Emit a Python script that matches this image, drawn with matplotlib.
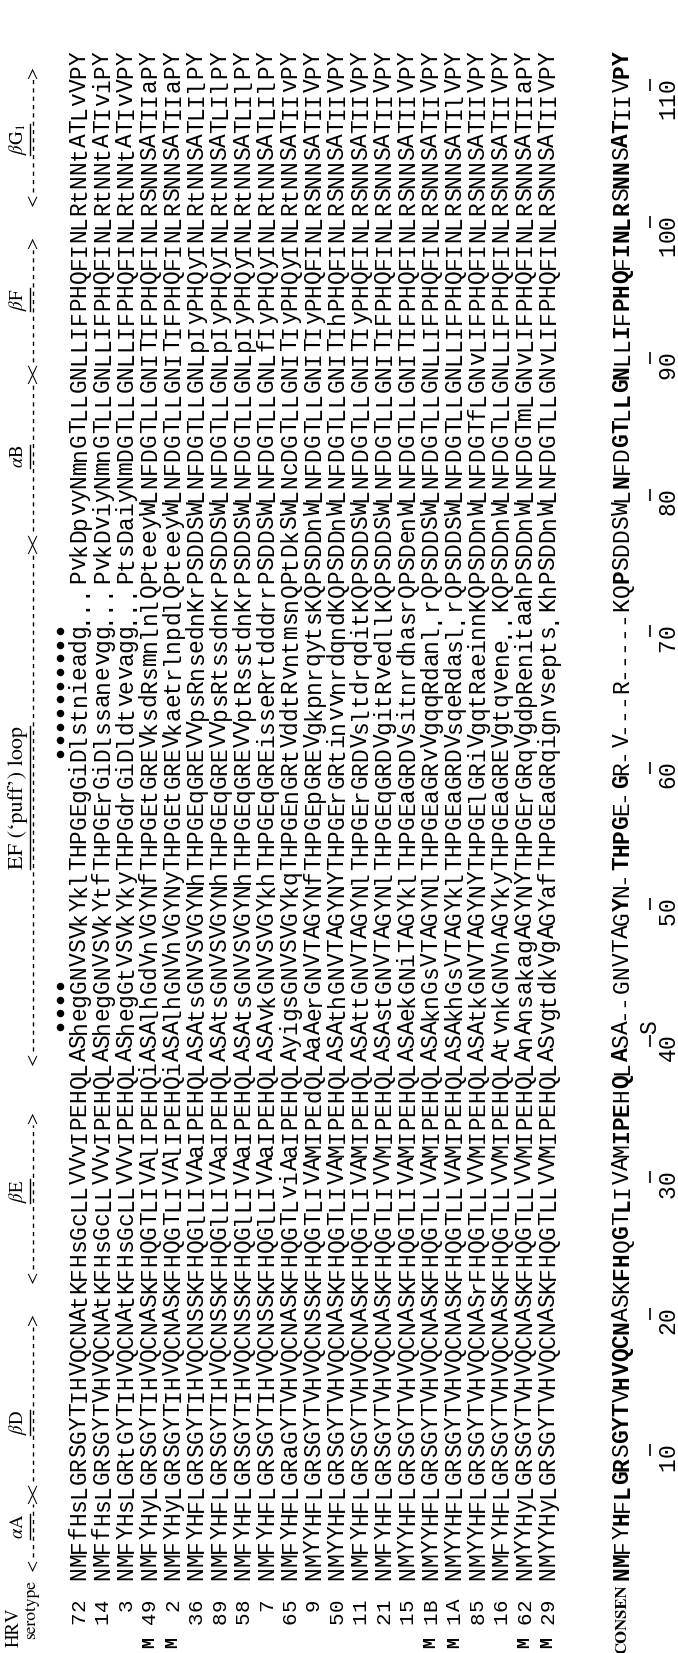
import matplotlib
matplotlib.use("Agg")
import matplotlib.pyplot as plt

plt.rcParams['mathtext.fontset'] = 'stix'

# ---------------- data ----------------
serotypes = ["72", "14", "3", "49", "2", "36", "89", "58", "7", "65", "9",
             "50", "11", "21", "15", "1B", "1A", "85", "16", "62", "29"]
m_flagged = ["49", "2", "1B", "1A", "62", "29"]

seq_72 = ("NMFfHsLGRS" "GYTIHVQCNA" "tKFHsGcLLV" "VvIPEHQLAS" "hegGNVSVkY" "klTHPGEgGi"
          "Dlstnieadg" "...PvkDpvy" "NmnGTLLGNL" "LIFPHQFINL" "RtNNtATLvV" "PY")
seq_14 = ("NMFfHsLGRS" "GYTVHVQCNA" "tKFHsGcLLV" "VvIPEHQLAS" "hegGNVSVkY" "tfTHPGErGi"
          "Dlssanevgg" "...PvkDviy" "NmnGTLLGNL" "LIFPHQFINL" "RtNNtATIvi" "PY")
seq_3 = ("NMFYHsLGRt" "GYTIHVQCNA" "tKFHsGcLLV" "VvIPEHQLAS" "hegGtVSVkY" "kyTHPGdrGi"
         "Dldtvevagg" "...PtsDaiy" "NmDGTLLGNL" "LIFPHQFINL" "RtNNtATIvV" "PY")
seq_49 = ("NMFYHyLGRS" "GYTIHVQCNA" "SKFHQGTLIV" "AlIPEHQiAS" "AlhGdVnVGY" "NfTHPGEtGR"
          "EVksdRsmnl" "nlQPteeyWL" "NFDGTLLGNI" "TIFPHQFINL" "RSNNSATIIa" "PY")
seq_2 = ("NMFYHyLGRS" "GYTIHVQCNA" "SKFHQGTLIV" "AlIPEHQiAS" "AlhGNVnVGY" "NyTHPGEtGR"
         "EVkaetrlnp" "dlQPteeyWL" "NFDGTLLGNI" "TIFPHQFINL" "RSNNSATIIa" "PY")
seq_36 = ("NMFYHFLGRS" "GYTIHVQCNS" "SKFHQGlLIV" "AaIPEHQLAS" "AtsGNVSVGY" "NhTHPGEqGR"
          "EVVpsRnsed" "nKrPSDDSWL" "NFDGTLLGNL" "pIyPHQyINL" "RtNNSATLIl" "PY")
seq_89 = ("NMFYHFLGRS" "GYTIHVQCNS" "SKFHQGlLIV" "AaIPEHQLAS" "AtsGNVSVGY" "NhTHPGEqGR"
          "EVVpsRtssd" "nKrPSDDSWL" "NFDGTLLGNL" "pIyPHQyINL" "RtNNSATLIl" "PY")
seq_58 = ("NMFYHFLGRS" "GYTIHVQCNS" "SKFHQGlLIV" "AaIPEHQLAS" "AtsGNVSVGY" "NhTHPGEqGR"
          "EVVptRsstd" "nKrPSDDSWL" "NFDGTLLGNL" "pIyPHQyINL" "RtNNSATLIl" "PY")
seq_7 = ("NMFYHFLGRS" "GYTIHVQCNS" "SKFHQGlLIV" "AaIPEHQLAS" "AvkGNVSVGY" "khTHPGEqGR"
         "EisseRrtdd" "drrPSDDSWL" "NFDGTLLGNL" "fIyPHQyINL" "RtNNSATLIl" "PY")
seq_65 = ("NMFYHFLGRa" "GYTVHVQCNA" "SKFHQGTLvi" "AaIPEHQLAy" "igsGNVSVGY" "kqTHPGEnGR"
          "tVddtRvntm" "snQPtDkSWL" "NcDGTLLGNI" "TIyPHQyINL" "RtNNSATIIv" "PY")
seq_9 = ("NMYYHFLGRS" "GYTVHVQCNS" "SKFHQGTLIV" "AMIPEdQLAa" "AerGNVTAGY" "NfTHPGEpGR"
         "EVgkpnrqyt" "sKQPSDDnWL" "NFDGTLLGNI" "TIyPHQFINL" "RSNNSATIIV" "PY")
seq_50 = ("NMYYHFLGRS" "GYTVHVQCNA" "SKFHQGTLIV" "AMIPEHQLAS" "AthGNVTAGY" "NYTHPGErGR"
          "tinvvnrdqn" "dKQPSDDnWL" "NFDGTLLGNI" "TIhPHQFINL" "RSNNSATIIV" "PY")
seq_11 = ("NMFYHFLGRS" "GYTVHVQCNA" "SKFHQGTLIV" "AMIPEHQLAS" "AttGNVTAGY" "NlTHPGErGR"
          "DVsltdrqdi" "tKQPSDDSWL" "NFDGTLLGNI" "TIyPHQFINL" "RSNNSATIIV" "PY")
seq_21 = ("NMFYHFLGRS" "GYTVHVQCNA" "SKFHQGTLIV" "VMIPEHQLAS" "AstGNVTAGY" "NlTHPGEqGR"
          "DVgitRvedl" "lKQPSDDSWL" "NFDGTLLGNI" "TIFPHQFINL" "RSNNSATIIV" "PY")
seq_15 = ("NMYYHFLGRS" "GYTVHVQCNA" "SKFHQGTLIV" "AMIPEHQLAS" "AekGNiTAGY" "klTHPGEaGR"
          "DVsitnrdha" "srQPSDenWL" "NFDGTLLGNI" "TIFPHQFINL" "RSNNSATIIV" "PY")
seq_1B = ("NMYYHFLGRS" "GYTVHVQCNA" "SKFHQGTLLV" "AMIPEHQLAS" "AknGsVTAGY" "NlTHPGEaGR"
          "vVgqqRdanl" ".rQPSDDSWL" "NFDGTLLGNL" "LIFPHQFINL" "RSNNSATIIV" "PY")
seq_1A = ("NMYYHFLGRS" "GYTVHVQCNA" "SKFHQGTLLV" "AMIPEHQLAS" "AkhGsVTAGY" "klTHPGEaGR"
          "DVsqeRdasl" ".rQPSDDSWL" "NFDGTLLGNL" "LIFPHQFINL" "RSNNSATIlV" "PY")
seq_85 = ("NMYYHFLGRS" "GYTVHVQCNA" "SrFHQGTLLV" "VMIPEHQLAS" "AtkGNVTAGY" "NYTHPGElGR"
          "iVgqtRaein" "nKQPSDDnWL" "NFDGTfLGNv" "LIFPHQFINL" "RSNNSATIIV" "PY")
seq_16 = ("NMFYHFLGRS" "GYTVHVQCNA" "SKFHQGTLLV" "VMIPEHQLAt" "vnkGNVnAGY" "kyTHPGEaGR"
          "EVgtqvene." ".KQPSDDnWL" "NFDGTLLGNL" "LIFPHQFINL" "RSNNSATIIV" "PY")
seq_62 = ("NMYYHyLGRS" "GYTVHVQCNA" "SKFHQGTLLV" "VMIPEHQLAn" "AnsakagAGY" "NYTHPGErGR"
          "qVgdpRenit" "aahPSDDnWL" "NFDGTmLGNv" "LIFPHQFINL" "RSNNSATIIa" "PY")
seq_29 = ("NMYYHyLGRS" "GYTVHVQCNA" "SKFHQGTLLV" "VMIPEHQLAS" "vgtdkVgAGY" "afTHPGEaGR"
          "qignvsepts" ".KhPSDDnWL" "NFDGTLLGNv" "LIFPHQFINL" "RSNNSATIIV" "PY")
consensus = ("NMFYHFLGRS" "GYTVHVQCNA" "SKFHQGTLIV" "AMIPEHQLAS" "A--GNVTAGY" "N-THPGE-GR"
             "-V---R----" "-KQPSDDSWL" "NFDGTLLGNL" "LIFPHQFINL" "RSNNSATIIV" "PY")

sequences = [seq_72, seq_14, seq_3, seq_49, seq_2, seq_36, seq_89, seq_58, seq_7, seq_65,
             seq_9, seq_50, seq_11, seq_21, seq_15, seq_1B, seq_1A, seq_85, seq_16, seq_62, seq_29]

ruler_ticks = [10, 20, 30, 40, 50, 60, 70, 80, 90, 100, 110]
ruler_marks = [("S", 41)]
dots_near_loop_start = [41, 42, 43, 44]
dots_in_loop = [61, 62, 63, 64, 65, 66, 67, 68, 69, 70]

# secondary structure: (label, start residue, end residue, label centre)
structure = [
    (r"$\alpha$A", 1.6, 6.6, 4.4),
    (r"$\beta$D", 7.2, 19.6, 12.0),
    (r"$\beta$E", 22.7, 34.4, 29.0),
    ("EF (\u2018puff\u2019) loop", 38.7, 76.2, 57.8),
    (r"$\alpha$B", 76.8, 88.6, 82.8),
    (r"$\beta$F", 89.2, 98.5, 94.3),
    (r"$\beta$G$_1$", 101.6, 111.0, 106.0),
]

# ---------------- layout ----------------
W, H = 678, 1653
ROW0_PX, ROW_PITCH = 79.0, 23.45     # x pixel of first row, spacing of rows
RES1_PX, RES_PITCH = 1573.0, 13.65   # y pixel of residue 1, spacing of residues


def slot(px):
    return (px - ROW0_PX) / ROW_PITCH


def res(py):
    return 1 + (RES1_PX - py) / RES_PITCH


fig = plt.figure(figsize=(W / 100, H / 100), dpi=100)
ax = fig.add_axes([0, 0, 1, 1])
ax.set_xlim(slot(0), slot(W))
ax.set_ylim(res(H), res(0))
ax.axis('off')

MONO = ['Liberation Mono', 'DejaVu Sans Mono']
SERIF = ['STIXGeneral', 'DejaVu Serif']
SEQ_SIZE = 16.5

X_CONS = slot(622)
X_TICK = slot(650)
X_NUM = slot(668)
X_DASH = slot(33)
X_LABEL = slot(18)
X_DOTS = slot(60)

# columns identical in every serotype are shown in bold in the consensus
conserved = [all(s[k] == consensus[k] for s in sequences) for k in range(len(consensus))]

for i, (lab, s) in enumerate(zip(serotypes, sequences)):
    for k, ch in enumerate(s, start=1):
        ax.text(i, k, ch, rotation=90, ha='center', va='center',
                family=MONO, size=SEQ_SIZE)
    for j, ch in enumerate(reversed(lab)):
        ax.text(i, -1.35 - 0.95 * j, ch, rotation=90, ha='center', va='center',
                family=MONO, size=SEQ_SIZE - 1.5)
    if lab in m_flagged:
        ax.text(i, res(1643), "M", rotation=90, ha='center', va='center',
                family=MONO, size=SEQ_SIZE - 3.5, weight='bold')

for k, ch in enumerate(consensus, start=1):
    ax.text(X_CONS, k, ch, rotation=90, ha='center', va='center', family=MONO,
            size=SEQ_SIZE, weight='bold' if conserved[k - 1] else 'normal')
ax.text(X_CONS, res(1619), "CONSEN", rotation=90, ha='center', va='center',
        family=SERIF, size=12, weight='bold')

# ruler
for t in ruler_ticks:
    ax.plot([X_TICK, X_TICK], [t - 0.45, t + 0.45], color='black', lw=1.2,
            solid_capstyle='butt')
    for j, ch in enumerate(reversed(str(t))):
        ax.text(X_NUM, t - j, ch, rotation=90, ha='center', va='center',
                family=MONO, size=SEQ_SIZE)
for ch, k in ruler_marks:
    ax.text(X_TICK, k, ch, rotation=90, ha='center', va='center', family=MONO, size=SEQ_SIZE)

# dots
ax.plot([X_DOTS] * len(dots_near_loop_start), dots_near_loop_start, 'o', color='black', ms=4.4)
ax.plot([X_DOTS] * len(dots_in_loop), dots_in_loop, 'o', color='black', ms=4.4)

# header
ax.text(slot(14), res(1627), "HRV", rotation=90, ha='center', va='center', family=SERIF, size=13.5)
ax.text(slot(31), res(1610), "serotype", rotation=90, ha='center', va='center', family=SERIF, size=12.5)

label_texts = []
for name, k0, k1, kc in structure:
    ax.text(X_DASH, k0, "<", rotation=90, ha='center', va='center', family=SERIF, size=13)
    ax.text(X_DASH, k1, ">", rotation=90, ha='center', va='center', family=SERIF, size=13)
    ax.plot([X_DASH, X_DASH], [k0 + 0.55, k1 - 0.55], color='black', lw=1.0,
            ls=(0, (3.0, 3.0)))
    size = 16 if "loop" in name else 13.5
    t = ax.text(X_LABEL, kc, name, rotation=90, ha='center', va='center', family=SERIF, size=size)
    label_texts.append(t)

fig.canvas.draw()
inv = ax.transData.inverted()
for t in label_texts:
    bb = t.get_window_extent()
    (_, y0), (_, y1) = inv.transform([(bb.x0, bb.y0), (bb.x1, bb.y1)])
    ax.plot([X_DASH - 0.12, X_DASH - 0.12], [y0, y1], color='black', lw=1.0)

fig.savefig("out.png", dpi=100, facecolor='white')
